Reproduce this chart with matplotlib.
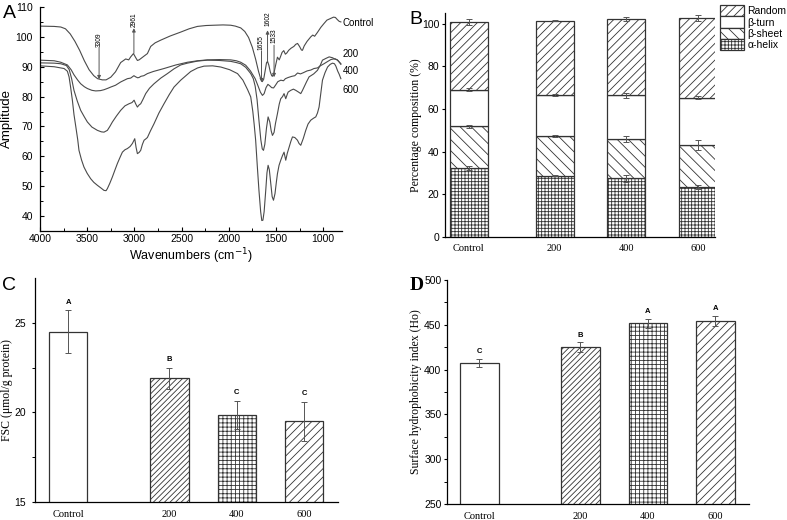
import numpy as np
import matplotlib.pyplot as plt

plt.rcParams['font.family'] = ['Liberation Sans', 'DejaVu Sans']
plt.rcParams['hatch.linewidth'] = 0.6
plt.rcParams['axes.linewidth'] = 0.9

# ---------- A: FTIR spectra, (wavenumber, amplitude)
ftir_control = [(4000, 103.6), (3850, 103.5), (3780, 103.3), (3730, 102.7), (3680, 101.0), (3630, 98.5),
                (3580, 95.5), (3530, 92.0), (3480, 89.0), (3430, 87.0), (3390, 86.0), (3340, 85.6),
                (3300, 85.6), (3250, 86.5), (3200, 88.3), (3145, 91.4), (3092, 92.6), (3060, 92.3),
                (3039, 93.3), (3010, 94.4), (2985, 93.0), (2968, 92.1), (2950, 92.3), (2933, 92.7),
                (2900, 93.5), (2862, 94.4), (2827, 96.8), (2780, 98.0), (2721, 98.9), (2620, 100.3),
                (2509, 101.6), (2420, 102.7), (2332, 103.5), (2240, 103.8), (2156, 103.9), (2060, 104.0),
                (1979, 103.9), (1930, 103.6), (1873, 103.0), (1830, 101.8), (1790, 99.8), (1750, 96.5),
                (1715, 92.5), (1685, 88.5), (1662, 86.0), (1645, 85.0), (1630, 85.8), (1615, 88.5),
                (1600, 91.3), (1589, 91.8), (1575, 90.5), (1560, 88.3), (1545, 87.0), (1537, 86.8),
                (1520, 88.0), (1500, 91.0), (1484, 93.2), (1465, 92.3), (1450, 93.5), (1435, 94.8),
                (1417, 95.4), (1400, 94.2), (1385, 94.6), (1365, 95.5), (1340, 96.2), (1310, 96.8),
                (1290, 97.5), (1271, 97.8), (1250, 96.8), (1230, 95.6), (1219, 95.5), (1200, 97.0),
                (1170, 98.5), (1131, 100.0), (1110, 100.6), (1090, 100.2), (1060, 101.5), (1024, 103.2),
                (990, 104.5), (960, 105.6), (918, 106.2), (890, 106.6), (870, 106.5), (850, 105.8),
                (830, 105.2), (812, 105.0)]
ftir_200 = [(4000, 92.2), (3850, 92.0), (3780, 91.5), (3710, 90.6), (3670, 89.0), (3640, 87.3),
            (3600, 85.5), (3569, 84.3), (3530, 83.3), (3498, 82.7), (3450, 82.1), (3410, 81.9),
            (3360, 82.0), (3322, 82.3), (3280, 82.8), (3250, 83.2), (3200, 83.8), (3145, 84.9),
            (3100, 85.6), (3074, 86.0), (3039, 86.2), (3005, 87.0), (2985, 86.6), (2965, 86.3),
            (2950, 86.4), (2930, 86.8), (2900, 87.0), (2862, 87.7), (2800, 88.4), (2686, 89.4),
            (2560, 90.6), (2438, 91.5), (2330, 92.0), (2226, 92.3), (2100, 92.4), (1979, 92.3),
            (1920, 92.0), (1873, 91.5), (1820, 90.5), (1770, 88.6), (1720, 86.0), (1690, 83.6),
            (1665, 81.5), (1643, 80.4), (1625, 81.0), (1605, 83.0), (1585, 84.1), (1565, 83.6),
            (1545, 83.0), (1525, 82.9), (1505, 83.8), (1480, 85.0), (1448, 85.5), (1420, 85.3),
            (1400, 86.0), (1370, 86.4), (1330, 86.8), (1300, 87.0), (1271, 87.9), (1240, 87.6),
            (1210, 88.0), (1170, 88.6), (1130, 88.9), (1097, 89.4), (1060, 89.6), (1030, 90.3),
            (991, 91.0), (950, 91.8), (918, 92.4), (890, 92.6), (870, 92.6), (847, 92.2),
            (825, 91.4), (812, 90.8)]
ftir_400 = [(4000, 91.3), (3850, 91.2), (3780, 91.0), (3720, 90.4), (3690, 89.0), (3665, 86.0),
            (3640, 82.1), (3605, 78.5), (3569, 75.4), (3530, 73.2), (3498, 71.5), (3450, 69.8),
            (3392, 68.7), (3350, 68.2), (3322, 68.1), (3286, 68.7), (3260, 70.0), (3233, 71.5),
            (3190, 73.5), (3145, 75.4), (3100, 76.9), (3057, 77.6), (3025, 78.0), (3003, 78.8),
            (2985, 77.5), (2968, 76.5), (2950, 77.2), (2933, 77.6), (2910, 79.0), (2880, 81.0),
            (2840, 82.8), (2792, 84.3), (2720, 86.2), (2650, 87.7), (2580, 89.3), (2509, 90.6),
            (2438, 91.2), (2330, 91.9), (2226, 92.2), (2100, 92.1), (1979, 91.8), (1920, 91.4),
            (1873, 91.0), (1820, 89.8), (1767, 87.7), (1740, 86.0), (1720, 83.5), (1700, 79.0),
            (1680, 72.0), (1660, 65.5), (1645, 62.5), (1632, 62.0), (1618, 64.0), (1600, 69.5),
            (1583, 73.2), (1565, 71.5), (1550, 68.5), (1537, 67.0), (1520, 68.0), (1505, 71.0),
            (1484, 74.3), (1465, 77.5), (1449, 79.3), (1430, 80.0), (1414, 81.0), (1396, 79.3),
            (1383, 80.5), (1371, 81.5), (1343, 82.1), (1315, 82.5), (1290, 82.1), (1260, 81.5),
            (1237, 81.0), (1220, 82.0), (1202, 83.2), (1175, 85.0), (1149, 86.6), (1100, 87.6),
            (1060, 88.8), (1030, 90.5), (1007, 92.2), (970, 92.8), (936, 93.3), (900, 93.0),
            (883, 92.7), (850, 92.3), (830, 91.6), (812, 91.0)]
ftir_600 = [(4000, 90.3), (3850, 90.0), (3745, 89.4), (3710, 88.5), (3692, 86.6), (3675, 83.0),
            (3657, 78.8), (3640, 74.0), (3620, 69.8), (3600, 65.5), (3587, 62.0), (3560, 58.8),
            (3534, 56.4), (3500, 54.3), (3463, 52.5), (3430, 51.3), (3392, 50.3), (3350, 49.3),
            (3322, 48.6), (3300, 48.5), (3286, 49.2), (3260, 51.0), (3233, 53.1), (3205, 55.5),
            (3180, 57.6), (3150, 59.8), (3127, 61.4), (3100, 62.2), (3074, 62.6), (3045, 63.3),
            (3021, 64.3), (2996, 65.9), (2982, 63.0), (2968, 60.9), (2950, 61.3), (2933, 62.0),
            (2915, 64.0), (2897, 65.4), (2880, 65.8), (2862, 66.3), (2830, 68.5), (2792, 70.9),
            (2740, 74.5), (2686, 77.6), (2630, 80.7), (2580, 83.2), (2509, 85.5), (2403, 88.4),
            (2330, 89.6), (2262, 90.2), (2170, 90.3), (2084, 89.9), (1990, 89.0), (1907, 87.7),
            (1850, 85.5), (1800, 82.3), (1767, 79.9), (1745, 75.0), (1730, 70.5), (1715, 65.4),
            (1697, 56.5), (1680, 48.6), (1662, 41.5), (1650, 38.5), (1638, 38.6), (1625, 41.5),
            (1608, 48.6), (1595, 54.5), (1583, 57.0), (1570, 55.5), (1555, 51.0), (1540, 46.5),
            (1526, 45.3), (1510, 47.5), (1495, 51.5), (1484, 54.2), (1467, 57.0), (1449, 58.7),
            (1430, 60.3), (1414, 61.4), (1405, 60.0), (1396, 58.7), (1380, 61.0), (1360, 63.1),
            (1342, 65.0), (1325, 66.5), (1300, 66.3), (1272, 65.4), (1255, 64.3), (1237, 63.7),
            (1210, 66.0), (1184, 68.7), (1160, 70.8), (1131, 72.1), (1100, 72.8), (1078, 73.2),
            (1060, 74.5), (1043, 76.5), (1025, 81.0), (1007, 85.5), (980, 88.0), (953, 89.9),
            (925, 90.8), (900, 91.2), (880, 91.0), (865, 90.2), (845, 88.5), (830, 87.5),
            (812, 86.0)]
ftir_names = ['Control', '200', '400', '600']
ftir_name_y = [104.6, 94.4, 88.6, 82.3]
# peak marks: label, x, arrow start, arrow end, label centre
peak_labels = ['3309', '2961', '1655', '1602', '1533']
peak_x = [3374, 3005, 1653, 1589, 1520]
peak_from = [96.2, 94.5, 95.2, 91.5, 97.2]
peak_to = [85.8, 102.9, 84.8, 102.2, 86.5]
peak_text_y = [98.9, 105.8, 98.0, 106.0, 100.3]

# ---------- B: secondary structure (%)
groups = ['Control', '200', '400', '600']
helix = [32.3, 28.8, 27.5, 23.4]
sheet = [19.6, 18.7, 18.4, 19.7]
turn = [17.2, 18.9, 20.5, 22.2]
random_coil = [31.7, 35.0, 35.9, 37.4]
helix_err = [1.1, 0.3, 1.5, 1.0]
sheet_err = [0.8, 0.5, 1.4, 2.3]
turn_err = [0.8, 0.5, 1.2, 0.8]
random_err = [1.2, 0.3, 1.0, 1.5]

# ---------- C: free sulfhydryl
fsc = [24.5, 21.9, 19.85, 19.5]
fsc_err = [1.2, 0.6, 0.8, 1.1]
fsc_letters = ['A', 'B', 'C', 'C']

# ---------- D: surface hydrophobicity
ho = [407.2, 425.1, 451.6, 454.2]
ho_err = [4.8, 5.6, 5.2, 5.6]
ho_letters = ['C', 'B', 'A', 'A']

serif = ['Liberation Serif', 'DejaVu Serif']
line_c = '#4a4a4a'
edge_c = '#333333'

fig = plt.figure(figsize=(7.87, 5.20), dpi=100)
W, H = 787.0, 520.0


def box(l, t, r, b):
    return [l / W, 1 - b / H, (r - l) / W, (b - t) / H]


# ================= A
axA = fig.add_axes(box(40, 7, 342, 231))
for curve in [ftir_control, ftir_200, ftir_400, ftir_600]:
    arr = np.array(curve)
    axA.plot(arr[:, 0], arr[:, 1], color=line_c, lw=0.8)
axA.set_xlim(4000, 800)
axA.set_ylim(35, 110)
axA.set_xticks([4000, 3500, 3000, 2500, 2000, 1500, 1000])
axA.set_xticks(np.arange(3750, 800, -500), minor=True)
axA.set_yticks(np.arange(40, 111, 10))
axA.set_yticks(np.arange(35, 110, 10), minor=True)
axA.tick_params(direction='in', length=3, width=0.8, labelsize=7.5, pad=2)
axA.tick_params(which='minor', direction='in', length=2, width=0.7)
axA.tick_params(axis='y', pad=5)
for s in ['top', 'right']:
    axA.spines[s].set_visible(False)
axA.set_xlabel('Wavenumbers (cm$^{-1}$)', fontsize=9)
axA.set_ylabel('Amplitude', fontsize=9.5)
axA.xaxis.set_label_coords(0.5, -0.068)
axA.yaxis.set_label_coords(-0.09, 0.5)
for name, yy in zip(ftir_names, ftir_name_y):
    axA.text(792, yy, name, fontsize=7, ha='left', va='center', clip_on=False)
for lab, px, y0, y1, ty in zip(peak_labels, peak_x, peak_from, peak_to, peak_text_y):
    axA.annotate('', xy=(px, y1), xytext=(px, y0),
                 arrowprops=dict(arrowstyle='-|>', lw=0.7, color='#555555',
                                 mutation_scale=5, shrinkA=0, shrinkB=0))
    axA.text(px, ty, lab, fontsize=4.8, rotation=90, ha='center', va='center')
fig.text(9 / W, 1 - 13 / H, 'A', fontsize=14, ha='center', va='center')

# ================= B
axB = fig.add_axes(box(445, 13, 715, 237))
xb = np.array([0, 1.2, 2.2, 3.2])
wb = 0.53
bottom = np.zeros(4)
layers = [(helix, helix_err, '+++++', u'\u03b1-helix'),
          (sheet, sheet_err, '\\\\\\', u'\u03b2-sheet'),
          (turn, turn_err, '', u'\u03b2-turn'),
          (random_coil, random_err, '////', 'Random')]
handles = []
for vals, errs, hatch, lab in layers:
    bars = axB.bar(xb, vals, wb, bottom=bottom, color='white', edgecolor=edge_c,
                   hatch=hatch, lw=0.9, label=lab)
    handles.append(bars)
    top = bottom + np.array(vals)
    axB.errorbar(xb, top, yerr=errs, fmt='none', ecolor='#555555', elinewidth=0.7,
                 capsize=2.5, capthick=0.7)
    bottom = top
axB.set_xlim(-0.33, 3.44)
axB.set_ylim(0, 105)
axB.set_yticks(np.arange(0, 101, 20))
axB.set_xticks(xb)
axB.set_xticklabels(groups, family=serif, fontsize=7.5)
axB.tick_params(axis='y', direction='out', length=2.5, width=0.8, labelsize=7.5, pad=1.5)
axB.tick_params(axis='x', length=0, pad=5)
for s in ['top', 'right']:
    axB.spines[s].set_visible(False)
axB.set_ylabel('Percentage composition (%)', family=serif, fontsize=8.5)
axB.yaxis.set_label_coords(-0.085, 0.5)
fig.legend(handles[::-1], [h.get_label() for h in handles[::-1]], loc='upper left',
           bbox_to_anchor=(720 / W, 1 - 5 / H), frameon=False, borderpad=0,
           labelspacing=0.0, handlelength=2.3, handleheight=1.3, handletextpad=0.35,
           fontsize=7.5, borderaxespad=0)
fig.text(416 / W, 1 - 19 / H, 'B', fontsize=14, ha='center', va='center')

# ================= C and D
xc = np.array([0, 1.5, 2.5, 3.5])
wc = 0.57
bar_hatches = ['', '//////', '++++', '////']


def bar_panel(ax, vals, errs, letters, off, lsize):
    for i in range(4):
        ax.bar(xc[i], vals[i], wc, color='white', edgecolor=edge_c, hatch=bar_hatches[i], lw=0.9)
    ax.errorbar(xc, vals, yerr=errs, fmt='none', ecolor='#555555', elinewidth=0.7,
                capsize=2.5, capthick=0.7)
    for i in range(4):
        ax.text(xc[i], vals[i] + errs[i] + off, letters[i], fontsize=lsize,
                fontweight='bold', ha='center', va='bottom')
    ax.set_xticks(xc)
    ax.set_xticklabels(groups, family=serif, fontsize=7.5)
    ax.tick_params(axis='x', length=0, pad=6)
    ax.tick_params(axis='y', direction='out', length=2.5, width=0.8, labelsize=7.5)
    ax.tick_params(axis='y', which='minor', direction='out', length=2, width=0.7)
    for s in ['top', 'right']:
        ax.spines[s].set_visible(False)


axC = fig.add_axes(box(35, 278, 338, 502))
bar_panel(axC, fsc, fsc_err, fsc_letters, 0.25, 5.5)
axC.set_xlim(-0.49, 4.0)
axC.set_ylim(15, 27.5)
axC.set_yticks([15, 20, 25])
axC.set_yticks([17.5, 22.5], minor=True)
axC.tick_params(axis='y', pad=4)
axC.set_ylabel(u'FSC (\u03bcmol/g protein)', family=serif, fontsize=8.5)
axC.yaxis.set_label_coords(-0.073, 0.5)
fig.text(9 / W, 1 - 285 / H, 'C', fontsize=14, ha='center', va='center')

axD = fig.add_axes(box(447, 280, 749, 504))
bar_panel(axD, ho, ho_err, ho_letters, 4, 5.5)
axD.set_xlim(-0.48, 4.0)
axD.set_ylim(250, 500)
axD.set_yticks(np.arange(250, 501, 50))
axD.set_yticks(np.arange(275, 500, 50), minor=True)
axD.tick_params(axis='y', pad=1.5)
axD.set_ylabel('Surface hydrophobicity index (Ho)', family=serif, fontsize=8.5)
axD.yaxis.set_label_coords(-0.083, 0.5)
fig.text(417 / W, 1 - 286 / H, 'D', fontsize=14, family=serif, fontweight='bold',
         ha='center', va='center')

fig.savefig('out.png', dpi=100)
